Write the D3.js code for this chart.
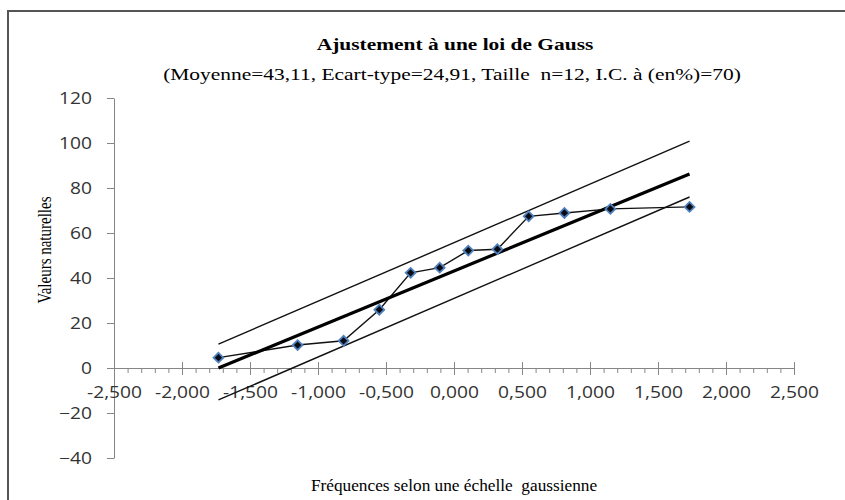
<!DOCTYPE html>
<html><head><meta charset="utf-8">
<script src="https://cdn.jsdelivr.net/npm/d3@7/dist/d3.min.js"></script>
<style>body{margin:0;background:#fff}svg{display:block}</style>
</head><body><svg id="c" width="845" height="500"></svg>
<script>
// ---- data ----
const zValues = [-1.732, -1.150, -0.812, -0.549, -0.319, -0.105, 0.105, 0.319, 0.549, 0.812, 1.150, 1.732];
const naturalValues = [4.6, 10.2, 12.1, 25.9, 42.3, 44.6, 52.2, 52.8, 67.4, 68.9, 70.7, 71.6];
const lineX = [-1.732, 1.732];
const fitY = [-0.03, 86.25];
const upperY = [10.6, 100.8];
const lowerY = [-14.2, 76.0];
const xTicks = [-2.5, -2, -1.5, -1, -0.5, 0, 0.5, 1, 1.5, 2, 2.5];
const xTickLabels = ["-2,500", "-2,000", "-1,500", "-1,000", "-0,500", "0,000", "0,500", "1,000", "1,500", "2,000", "2,500"];
const xMinorTicks = [-2.4,-2.3,-2.2,-2.1,-1.9,-1.8,-1.7,-1.6,-1.4,-1.3,-1.2,-1.1,-0.9,-0.8,-0.7,-0.6,-0.4,-0.3,-0.2,-0.1,
                     0.1,0.2,0.3,0.4,0.6,0.7,0.8,0.9,1.1,1.2,1.3,1.4,1.6,1.7,1.8,1.9,2.1,2.2,2.3,2.4];
const yTicks = [-40, -20, 0, 20, 40, 60, 80, 100, 120];
const titleText = "Ajustement à une loi de Gauss";
const subtitleText = "(Moyenne=43,11, Ecart-type=24,91, Taille  n=12, I.C. à (en%)=70)";
const xTitleText = "Fréquences selon une échelle  gaussienne";
const yTitleText = "Valeurs naturelles";

// ---- drawing ----
const SX = 1.2; // horizontal stretch of the reference's tick-label glyphs
const svg = d3.select("#c");
svg.append("rect").attr("width", 845).attr("height", 500).attr("fill", "#fff");
svg.append("rect").attr("x", 8).attr("y", 11).attr("width", 1000).attr("height", 1000)
  .attr("fill", "none").attr("stroke", "#555").attr("stroke-width", 2);

const x = d3.scaleLinear().domain([-2.5, 2.5]).range([114, 794]);
const y = d3.scaleLinear().domain([-40, 120]).range([458, 98]);
const axisColor = "#868686";
const labelFont = "'Open Sans', sans-serif";
const serif = "'Liberation Serif', 'Times New Roman', serif";

function sText(str, tx, ty, opts) {
  return svg.append("text")
    .attr("transform", `translate(${tx},${ty}) scale(${opts.sx},1)` + (opts.rotate ? ` rotate(${opts.rotate})` : ""))
    .attr("text-anchor", "middle")
    .attr("font-family", serif)
    .attr("font-size", opts.size)
    .attr("font-weight", opts.weight || "normal")
    .attr("fill", "#000")
    .style("white-space", "pre")
    .text(str);
}

// Y axis
const yAxis = svg.append("g").attr("transform", `translate(${x(-2.5)},0)`)
  .call(d3.axisLeft(y).tickValues(yTicks).tickSize(7).tickSizeOuter(0).tickFormat(d3.format("d")));
yAxis.select(".domain").attr("stroke", axisColor);
yAxis.selectAll(".tick line").attr("stroke", axisColor);
yAxis.selectAll(".tick text")
  .attr("x", null).attr("dy", "0.36em")
  .attr("transform", `translate(-22,0) scale(${SX},1)`)
  .attr("font-family", labelFont).attr("font-size", 16).attr("fill", "#333");

// X axis (minor ticks)
const xMinor = svg.append("g").attr("transform", `translate(0,${y(0)})`)
  .call(d3.axisBottom(x).tickValues(xMinorTicks).tickSize(5).tickSizeOuter(0).tickFormat(""));
xMinor.select(".domain").remove();
xMinor.selectAll(".tick line").attr("stroke", axisColor);

// X axis (major)
const xAxis = svg.append("g").attr("transform", `translate(0,${y(0)})`)
  .call(d3.axisBottom(x).tickValues(xTicks).tickSize(7).tickSizeOuter(0)
    .tickFormat((d, i) => xTickLabels[i]));
xAxis.select(".domain").attr("stroke", axisColor);
xAxis.selectAll(".tick line").attr("stroke", axisColor).attr("y1", -6);
xAxis.selectAll(".tick text")
  .attr("y", null).attr("dy", null)
  .attr("transform", `translate(0,30) scale(${SX},1)`)
  .attr("font-family", labelFont).attr("font-size", 16).attr("fill", "#333");

// lines
const line2 = d3.line().x(d => x(d[0])).y(d => y(d[1]));
function seg(ys) { return lineX.map((v, i) => [v, ys[i]]); }

const pts = zValues.map((z, i) => [z, naturalValues[i]]);
svg.append("path").attr("d", line2(pts)).attr("fill", "none").attr("stroke", "#111").attr("stroke-width", 1.4);
svg.append("path").attr("d", line2(seg(upperY))).attr("fill", "none").attr("stroke", "#111").attr("stroke-width", 1.4);
svg.append("path").attr("d", line2(seg(lowerY))).attr("fill", "none").attr("stroke", "#111").attr("stroke-width", 1.4);
svg.append("path").attr("d", line2(seg(fitY))).attr("fill", "none").attr("stroke", "#000").attr("stroke-width", 3.2);

// markers
const sym = d3.symbol().type(d3.symbolSquare).size(48);
svg.append("g").selectAll("path").data(pts).join("path")
  .attr("transform", d => `translate(${x(d[0])},${y(d[1])}) rotate(45)`)
  .attr("d", sym)
  .attr("fill", "#0b0b14").attr("stroke", "#4F81BD").attr("stroke-width", 1.8);

// titles
sText(titleText, 455, 50, { size: 17, weight: "bold", sx: 1.26 });
sText(subtitleText, 452, 80, { size: 16, sx: 1.34 });
sText(xTitleText, 454, 491, { size: 16, sx: 1.08 });
sText(yTitleText, 51, 250, { size: 15, sx: 1.22, rotate: -90 });
</script>
</body></html>
